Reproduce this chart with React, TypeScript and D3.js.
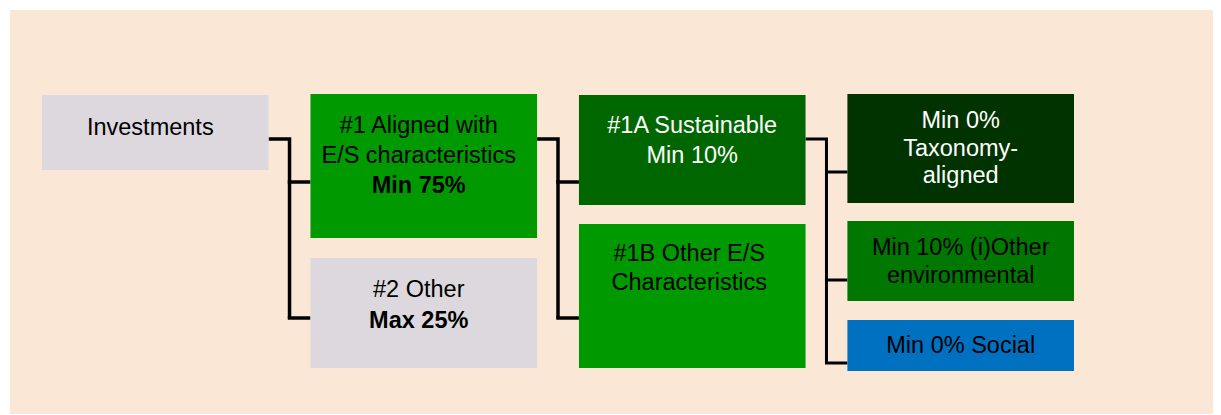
import { useEffect, useRef } from "react";
import * as d3 from "d3";

// nodes of the asset allocation tree
const nodeIds = ["inv", "n1", "n2", "n1a", "n1b", "tax", "env", "soc"];
const nodeParents = [null, "inv", "inv", "n1", "n1", "n1a", "n1a", "n1a"];
const nodeLines = [
  ["Investments"],
  ["#1 Aligned with", "E/S characteristics"],
  ["#2 Other"],
  ["#1A Sustainable", "Min 10%"],
  ["#1B Other E/S", "Characteristics"],
  ["Min 0%", "Taxonomy-", "aligned"],
  ["Min 10% (i)Other", "environmental"],
  ["Min 0% Social"],
];
const nodeShares = ["", "Min 75%", "Max 25%", "", "", "", "", ""];

// layout (column, box top/bottom, link in/out y, text start y, line gap, text dx)
const nodeColumn = [0, 1, 1, 2, 2, 3, 3, 3];
const boxTop = [95, 94, 258, 95, 224, 94, 221, 320];
const boxBottom = [170, 238, 368, 205, 368, 203, 301, 371];
const inY = [139, 182, 318, 182, 318, 172, 280, 363];
const outY = [139, 139, 0, 139, 0, 0, 0, 0];
const textY = [127, 125, 289, 125, 253, 120, 247, 345];
const lineGap = [30, 30, 31, 30, 29, 27.5, 27.5, 30];
const textDx = [-5, -5, -5, 0, -3, 0, 0, 0];
const fills = ["#dcd8dd", "#009900", "#dcd8dd", "#006600", "#009900", "#003300", "#007700", "#0070c0"];
const textColors = ["#000", "#000", "#000", "#fff", "#000", "#fff", "#000", "#000"];

const W = 1221;
const H = 415;

const App = () => {
  const ref = useRef<SVGSVGElement | null>(null);

  useEffect(() => {
    const svg = d3.select(ref.current);
    svg.selectAll("*").remove();

    const x = d3
      .scaleBand<number>()
      .domain([0, 1, 2, 3])
      .range([42, 1074])
      .paddingInner(0.156)
      .paddingOuter(0);

    svg
      .append("rect")
      .attr("x", 10)
      .attr("y", 10)
      .attr("width", 1203)
      .attr("height", 404)
      .attr("fill", "#fae7d6");

    // connectors
    const linkG = svg.append("g").attr("fill", "none").attr("stroke", "#000");
    nodeIds.forEach((id, pi) => {
      const kids = nodeIds.map((_, i) => i).filter((i) => nodeParents[i] === id);
      if (!kids.length) return;
      const px = x(nodeColumn[pi])! + x.bandwidth();
      const cx = x(nodeColumn[kids[0]])!;
      const trunk = px + (cx - px) / 2;
      const bottom = d3.max(kids, (k) => inY[k])!;
      const sw = nodeColumn[pi] === 2 ? 3 : 3.5;
      const path = d3.path();
      path.moveTo(px, outY[pi]);
      path.lineTo(trunk, outY[pi]);
      path.lineTo(trunk, bottom);
      linkG.append("path").attr("d", path.toString()).attr("stroke-width", sw);
      kids.forEach((k) => {
        linkG
          .append("line")
          .attr("x1", trunk - sw / 2)
          .attr("x2", cx)
          .attr("y1", inY[k])
          .attr("y2", inY[k])
          .attr("stroke-width", sw);
      });
    });

    // boxes
    const nodes = svg
      .selectAll("g.node")
      .data(nodeIds.map((_, i) => i))
      .enter()
      .append("g")
      .attr("class", "node");

    nodes
      .append("rect")
      .attr("x", (i) => x(nodeColumn[i])!)
      .attr("y", (i) => boxTop[i])
      .attr("width", x.bandwidth())
      .attr("height", (i) => boxBottom[i] - boxTop[i])
      .attr("fill", (i) => fills[i]);

    nodes.each(function (i) {
      const g = d3.select(this);
      const lines = nodeLines[i].map((t) => ({ t, bold: false }));
      if (nodeShares[i]) lines.push({ t: nodeShares[i], bold: true });
      const cx = x(nodeColumn[i])! + x.bandwidth() / 2 + textDx[i];
      g.selectAll("text")
        .data(lines)
        .enter()
        .append("text")
        .attr("x", cx)
        .attr("y", (_, j) => textY[i] + j * lineGap[i])
        .attr("dy", "0.36em")
        .attr("text-anchor", "middle")
        .attr("font-family", "Liberation Sans, Arial, sans-serif")
        .attr("font-size", 23.5)
        .attr("font-weight", (d) => (d.bold ? "bold" : "normal"))
        .attr("fill", textColors[i])
        .text((d) => d.t);
    });
  }, []);

  return (
    <svg
      ref={ref}
      width={W}
      height={H}
      style={{ position: "absolute", left: 0, top: 0, background: "#fff" }}
    />
  );
};

export default App;
